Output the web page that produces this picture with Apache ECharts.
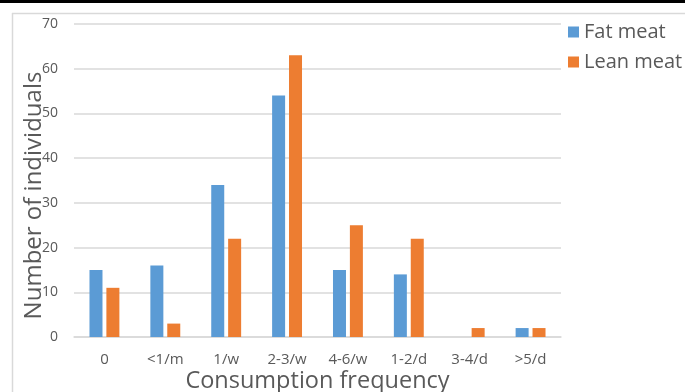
<!DOCTYPE html>
<html>
<head>
<meta charset="utf-8">
<script src="https://cdn.jsdelivr.net/npm/echarts@6/dist/echarts.min.js"></script>
<style>
  html, body { margin: 0; padding: 0; background: #fff; }
  #chart { width: 685px; height: 392px; }
</style>
</head>
<body>
<div id="chart"></div>
<script>
// data
var categories = ['0', '<1/m', '1/w', '2-3/w', '4-6/w', '1-2/d', '3-4/d', '>5/d'];
var fatMeat = [15, 16, 34, 54, 15, 14, 0, 2];
var leanMeat = [11, 3, 22, 63, 25, 22, 2, 2];
var seriesNames = ['Fat meat', 'Lean meat'];

var myChart = echarts.init(document.getElementById('chart'));
var textColor = '#595959';
var font = '"Open Sans", "Noto Sans", sans-serif';

var options = {
    animation: false,
    textStyle: { fontFamily: font },
    color: ['#5B9BD5', '#ED7D31'],
    graphic: [
        // black top line + light frame
        { type: 'rect', shape: { x: 0, y: 0, width: 685, height: 3 }, style: { fill: '#000' } },
        { type: 'line', shape: { x1: 12, y1: 13.5, x2: 685, y2: 13.5 }, style: { stroke: '#d9d9d9', lineWidth: 1.5 } },
        { type: 'line', shape: { x1: 12.5, y1: 13, x2: 12.5, y2: 392 }, style: { stroke: '#d9d9d9', lineWidth: 1.5 } }
    ],
    grid: {
        left: 74,
        right: 124,
        top: 24,
        bottom: 55,
        containLabel: false,
        outerBoundsMode: 'none'
    },
    legend: {
        data: seriesNames,
        orient: 'vertical',
        left: 563,
        top: 17,
        itemWidth: 11,
        itemHeight: 11,
        itemGap: 10,
        icon: 'rect',
        textStyle: { color: textColor, fontSize: 20, fontFamily: font }
    },
    xAxis: {
        type: 'category',
        data: categories,
        name: 'Consumption frequency',
        nameLocation: 'middle',
        nameGap: 32,
        nameMoveOverlap: false,
        nameTextStyle: { color: textColor, fontSize: 23.5, fontFamily: font },
        axisLine: { lineStyle: { color: '#d9d9d9', width: 1.5 } },
        axisTick: { show: false },
        axisLabel: { color: textColor, fontSize: 15, margin: 15, interval: 0 }
    },
    yAxis: {
        type: 'value',
        min: 0,
        max: 70,
        interval: 10,
        name: 'Number of individuals',
        nameLocation: 'middle',
        nameGap: 28,
        nameMoveOverlap: false,
        nameTextStyle: { color: textColor, fontSize: 24, fontFamily: font, padding: [0, 30, 0, 0] },
        axisLine: { show: false },
        axisTick: { show: false },
        axisLabel: { color: textColor, fontSize: 14, margin: 16 },
        splitLine: { lineStyle: { color: '#d9d9d9', width: 1.5 } }
    },
    series: [
        {
            name: seriesNames[0],
            type: 'bar',
            data: fatMeat,
            barWidth: 13,
            barGap: '30%'
        },
        {
            name: seriesNames[1],
            type: 'bar',
            data: leanMeat,
            barWidth: 13,
            barGap: '30%'
        }
    ]
};
myChart.setOption(options);
window.addEventListener('resize', myChart.resize);
</script>
</body>
</html>
